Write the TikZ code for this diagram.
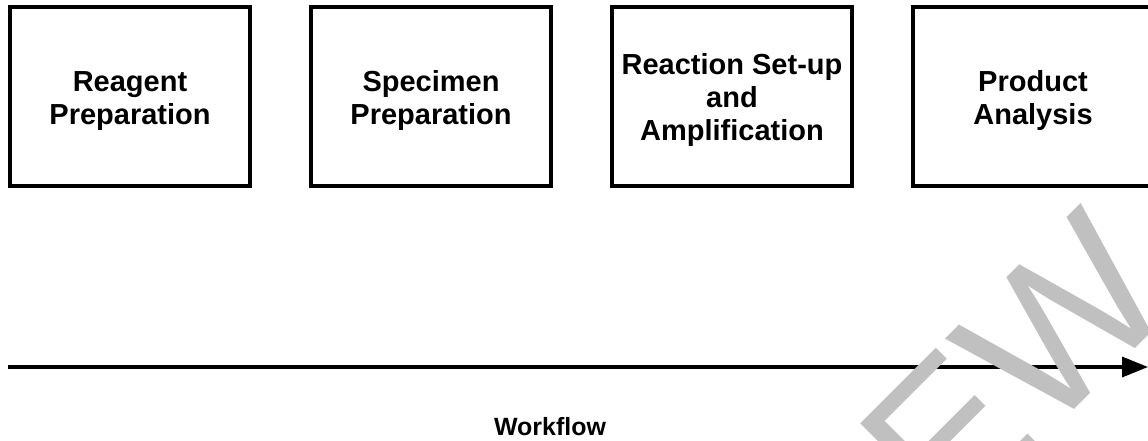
\documentclass[tikz,border=0pt]{standalone}
\usepackage{fontspec}
\setmainfont{Liberation Sans}
\usetikzlibrary{arrows.meta}
\definecolor{wmgray}{HTML}{C0C0C0}
% pushes the stage text a little below the middle
\newcommand\stagestrut{\rule{0pt}{16pt}}

\begin{document}
\begin{tikzpicture}[
  stage/.style={draw, line width=0.07cm, minimum width=4.8cm, minimum height=3.58cm,
    inner sep=0, align=center, font=\fontsize{16.5}{18.8}\selectfont\bfseries},
  flow/.style={line width=0.07cm, -{Triangle[length=0.52cm, width=0.4cm]}},
  stampfont/.style={wmgray, inner sep=0, rotate=45, anchor=base east,
    font=\fontsize{116.7}{120}\selectfont}]
\useasboundingbox (0, 0) rectangle (22.96, 8.8);
% the four stages
\foreach \x/\n/\t in {2.6/reagent/{Reagent\\Preparation},
    8.62/specimen/{Specimen\\Preparation},
    14.64/reaction/{Reaction Set-up\\and\\Amplification},
    20.66/product/{Product\\Analysis}}
  \node[stage] (\n) at (\x, 6.87) {\stagestrut\t};
% time line
\coordinate (flowstart) at (0.16, 1.46);
\coordinate (flowend) at (22.96, 1.46);
\draw[flow] (flowstart) -- (flowend);
\node[anchor=base, inner sep=0, font=\fontsize{14.2}{16}\selectfont\bfseries] (flowlabel) at (11.0, 0.1) {Workflow};
% stamp
\node[stampfont] (stamp) at (23.64, 2.76) {EW};
\end{tikzpicture}
\end{document}
